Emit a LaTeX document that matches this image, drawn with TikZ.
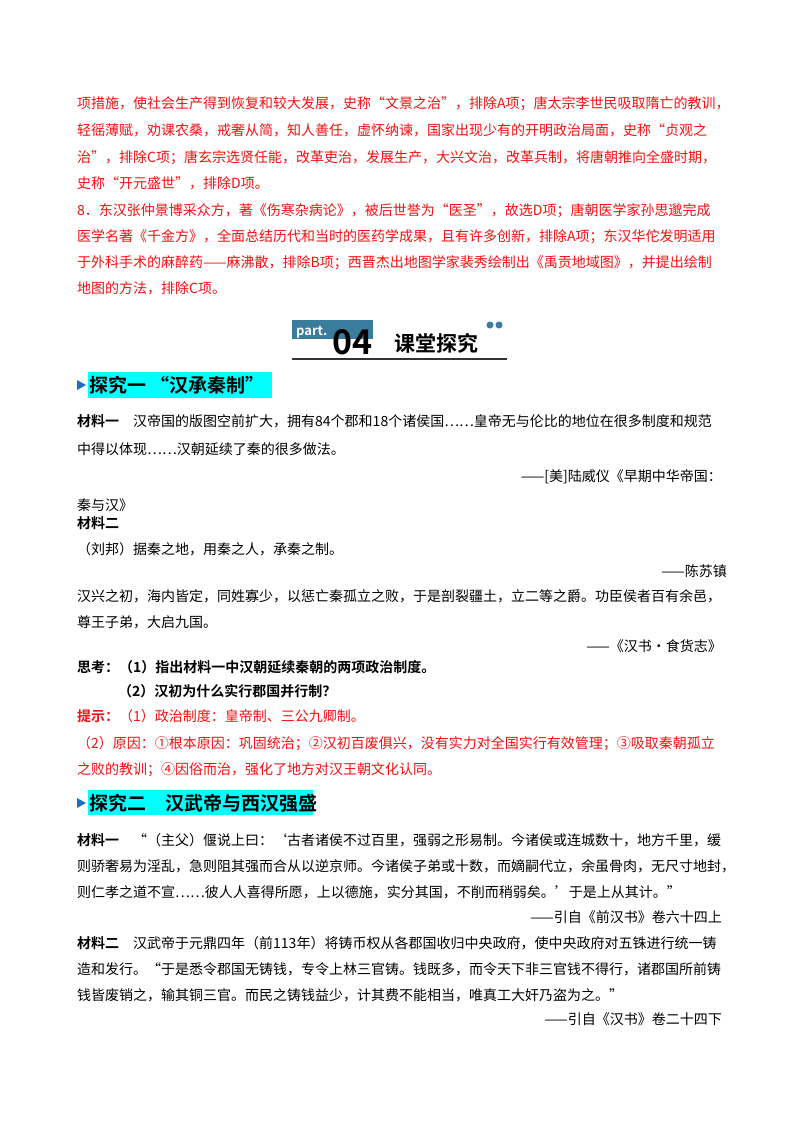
\documentclass[tikz,border=0pt]{standalone}
\usepackage{fontspec}
\setmainfont{Noto Sans CJK SC}[BoldFont={Noto Sans CJK SC Bold}]
\XeTeXlinebreaklocale "zh"
\XeTeXlinebreakskip=0pt plus 6pt
\definecolor{ansred}{HTML}{F51010}
\definecolor{hlcyan}{HTML}{00FFFF}
\definecolor{partblue}{HTML}{3A7C9C}
\definecolor{tipblue}{HTML}{1F6FC0}
\newcommand{\jl}[1]{\hbox to 648pt{#1}}
\tikzset{
  txt/.style={anchor=base west, inner sep=0pt, font=\fontsize{14}{16}\selectfont},
  ans/.style={txt, text=ansred},
  cite/.style={anchor=base east, inner sep=0pt, font=\fontsize{14}{16}\selectfont},
  head/.style={anchor=base west, inner sep=0pt, font=\fontsize{19}{21}\selectfont\bfseries},
}
\begin{document}
\begin{tikzpicture}[x=1pt,y=-1pt]
\useasboundingbox[fill=white] (0,0) rectangle (800,1132);

% answer block
\node[ans] (a1) at (77,108) {\jl{项措施，使社会生产得到恢复和较大发展，史称“文景之治”，排除A项；唐太宗李世民吸取隋亡的教训，}};
\node[ans] (a2) at (77,135) {\jl{轻徭薄赋，劝课农桑，戒奢从简，知人善任，虚怀纳谏，国家出现少有的开明政治局面，史称“贞观之}};
\node[ans] (a3) at (77,162) {\jl{治”，排除C项；唐玄宗选贤任能，改革吏治，发展生产，大兴文治，改革兵制，将唐朝推向全盛时期，}};
\node[ans] (a4) at (77,188) {史称“开元盛世”，排除D项。};
\node[ans] (a5) at (77,215) {\jl{8．东汉张仲景博采众方，著《伤寒杂病论》，被后世誉为“医圣”，故选D项；唐朝医学家孙思邈完成}};
\node[ans] (a6) at (77,241) {\jl{医学名著《千金方》，全面总结历代和当时的医药学成果，且有许多创新，排除A项；东汉华佗发明适用}};
\node[ans] (a7) at (77,267) {\jl{于外科手术的麻醉药——麻沸散，排除B项；西晋杰出地图学家裴秀绘制出《禹贡地域图》，并提出绘制}};
\node[ans] (a8) at (77,293) {地图的方法，排除C项。};

% part header
\fill[partblue] (292,320) rectangle (373,339);
\node[anchor=base west, inner sep=0pt, text=white, font=\fontsize{13}{13}\selectfont\bfseries] (pt) at (296,335) {part.};
\node[anchor=base west, inner sep=0pt, font=\fontsize{34}{34}\selectfont\bfseries] (num) at (332,354) {04};
\node[anchor=base west, inner sep=0pt, font=\fontsize{21}{21}\selectfont\bfseries] (ttl) at (394,351) {课堂探究};
\draw[line width=1.2pt, black!80] (292,359) -- (507,359);
\foreach \cx in {490,499}
  \fill[partblue] (\cx,325) circle (3.5pt);

% section one
\fill[hlcyan] (88,372) rectangle (272,398);
\fill[tipblue] (77,380) -- (86,385) -- (77,390) -- cycle;
\node[head] (s1) at (89,392) {探究一 “汉承秦制”};
\node[txt] (m1a) at (77,426) {\jl{\textbf{材料一}\quad 汉帝国的版图空前扩大，拥有84个郡和18个诸侯国……皇帝无与伦比的地位在很多制度和规范}};
\node[txt] (m1b) at (77,454) {中得以体现……汉朝延续了秦的很多做法。};
\node[cite] (c1a) at (722,481) {——[美]陆威仪《早期中华帝国：};
\node[txt] (c1b) at (77,510) {秦与汉》};
\node[txt] (m2t) at (77,528) {\textbf{材料二}};
\node[txt] (m2a) at (77,554) {（刘邦）据秦之地，用秦之人，承秦之制。};
\node[cite] (c2) at (727,576) {——陈苏镇};
\node[txt] (m2b) at (77,601) {\jl{汉兴之初，海内皆定，同姓寡少，以惩亡秦孤立之败，于是剖裂疆土，立二等之爵。功臣侯者百有余邑，}};
\node[txt] (m2c) at (77,627) {尊王子弟，大启九国。};
\node[cite] (c3) at (722,651) {——《汉书·食货志》};
\node[txt] (q1) at (77,672) {\textbf{思考：（1）指出材料一中汉朝延续秦朝的两项政治制度。}};
\node[txt] (q2) at (118,696) {\textbf{（2）汉初为什么实行郡国并行制？}};
\node[ans] (h1) at (77,721) {\textbf{提示：}（1）政治制度：皇帝制、三公九卿制。};
\node[ans] (h2) at (77,748) {\jl{（2）原因：①根本原因：巩固统治；②汉初百废俱兴，没有实力对全国实行有效管理；③吸取秦朝孤立}};
\node[ans] (h3) at (77,774) {之败的教训；④因俗而治，强化了地方对汉王朝文化认同。};

% section two
\fill[hlcyan] (88,790) rectangle (313,815);
\fill[tipblue] (77,798) -- (86,803) -- (77,808) -- cycle;
\node[head] (s2) at (89,810) {探究二\quad 汉武帝与西汉强盛};
\node[txt] (n1a) at (77,845) {\jl{\textbf{材料一}\quad“（主父）偃说上曰：‘古者诸侯不过百里，强弱之形易制。今诸侯或连城数十，地方千里，缓}};
\node[txt] (n1b) at (77,871) {\jl{则骄奢易为淫乱，急则阻其强而合从以逆京师。今诸侯子弟或十数，而嫡嗣代立，余虽骨肉，无尺寸地封，}};
\node[txt] (n1c) at (77,897) {则仁孝之道不宣……彼人人喜得所愿，上以德施，实分其国，不削而稍弱矣。’于是上从其计。”};
\node[cite] (c4) at (722,922) {——引自《前汉书》卷六十四上};
\node[txt] (n2a) at (77,948) {\jl{\textbf{材料二}\quad 汉武帝于元鼎四年（前113年）将铸币权从各郡国收归中央政府，使中央政府对五铢进行统一铸}};
\node[txt] (n2b) at (77,974) {\jl{造和发行。“于是悉令郡国无铸钱，专令上林三官铸。钱既多，而令天下非三官钱不得行，诸郡国所前铸}};
\node[txt] (n2c) at (77,1000) {钱皆废销之，输其铜三官。而民之铸钱益少，计其费不能相当，唯真工大奸乃盗为之。”};
\node[cite] (c5) at (722,1024) {——引自《汉书》卷二十四下};
\end{tikzpicture}
\end{document}
